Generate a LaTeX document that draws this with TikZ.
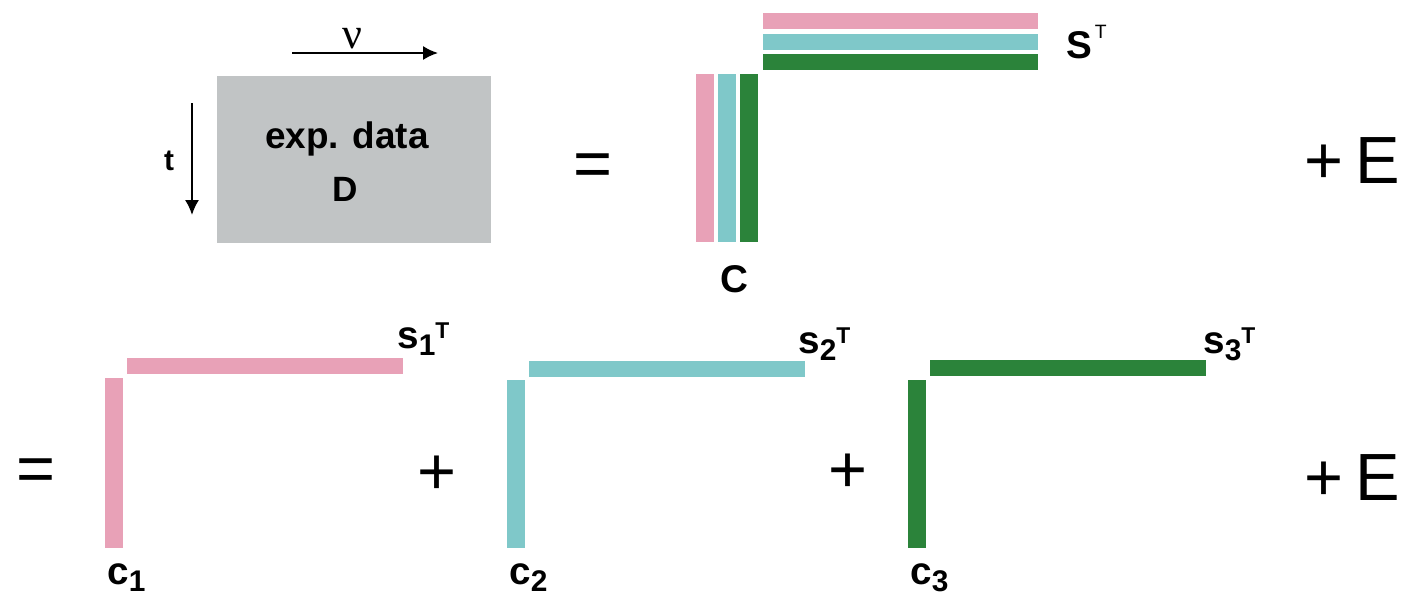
\documentclass[tikz,border=0pt]{standalone}
\usepackage{fontspec}
\setmainfont{Liberation Sans}
\newfontfamily\greekfont{Liberation Serif}
\usetikzlibrary{arrows.meta}
\definecolor{barpink}{HTML}{E8A1B7}
\definecolor{barcyan}{HTML}{7FC8C9}
\definecolor{bargreen}{HTML}{2B833A}
\definecolor{datagray}{HTML}{C1C4C5}
% indices of the labels
\newcommand{\lowidx}[1]{\raisebox{-4.5pt}{\fontsize{17}{20}\selectfont#1}}
\newcommand{\highidx}[1]{\raisebox{5.5pt}{\fontsize{13}{16}\selectfont#1}}
\begin{document}
\begin{tikzpicture}[x=0.02cm, y=-0.02cm,
    lbl/.style={inner sep=0pt, anchor=base west, font=\fontsize{22}{26}\selectfont\bfseries},
    op/.style={inner sep=0pt, font=\fontsize{38}{44}\selectfont},
    axis/.style={line width=1.1pt, -{Latex[length=8.5pt, width=8pt]}}]
    \useasboundingbox (0,0) rectangle (1401,596);
    % data matrix
    \fill[datagray] (217,76) rectangle (491,243);
    \node[inner sep=0pt, anchor=base, font=\fontsize{21}{25}\selectfont\bfseries] (exp) at (347,148) {exp. data};
    \node[inner sep=0pt, anchor=base, font=\fontsize{20}{24}\selectfont\bfseries] (D) at (345,201) {D};
    % axes
    \coordinate (nu0) at (292,53); \coordinate (nu1) at (438,53);
    \coordinate (t0) at (192,103); \coordinate (t1) at (192,215);
    \draw[axis] (nu0) -- (nu1);
    \draw[axis] (t0) -- (t1);
    \node[inner sep=0pt, anchor=base, font=\fontsize{25}{30}\selectfont\greekfont] (nu) at (352,48) {ν};
    \node[inner sep=0pt, anchor=base, font=\fontsize{17}{20}\selectfont\bfseries] (t) at (169,170) {t};
    \node[op] (eq1) at (593,170) {=};
    % C and S^T
    \foreach \col/\i in {barpink/0, barcyan/1, bargreen/2} {
        \fill[\col] (696+22*\i,74) rectangle (714+22*\i,242);
        \fill[\col] (763,13+20.5*\i) rectangle (1038,29+20.5*\i);
    }
    \node[lbl, anchor=base] (C) at (734,292) {C};
    \node[lbl] (ST) at (1066,58) {S\kern1.5pt\raisebox{11pt}{\fontsize{11}{13}\selectfont\mdseries T}};
    \node[op, anchor=base east] (E1) at (1400,183) {+\kern0.18em E};
    % sum of rank-one terms
    \node[op] (eq2) at (36,475) {=};
    \foreach \col/\i/\dx/\sx/\sy/\hy/\vy in {barpink/1/0/397/348/358/378, barcyan/2/402/798/353/361/380, bargreen/3/803/1203/353/360/380} {
        \fill[\col] (105+\dx,\vy) rectangle (123+\dx,548);
        \fill[\col] (127+\dx,\hy) rectangle (403+\dx,\hy+16);
        \node[lbl] (c\i) at (107+\dx,584) {c\lowidx{\i}};
        \node[lbl] (s\i) at (\sx,\sy) {s\lowidx{\i}\highidx{T}};
    }
    \node[op] (pl1) at (437,475) {+};
    \node[op] (pl2) at (848,473) {+};
    \node[op, anchor=base east] (E2) at (1400,500) {+\kern0.18em E};
\end{tikzpicture}
\end{document}
